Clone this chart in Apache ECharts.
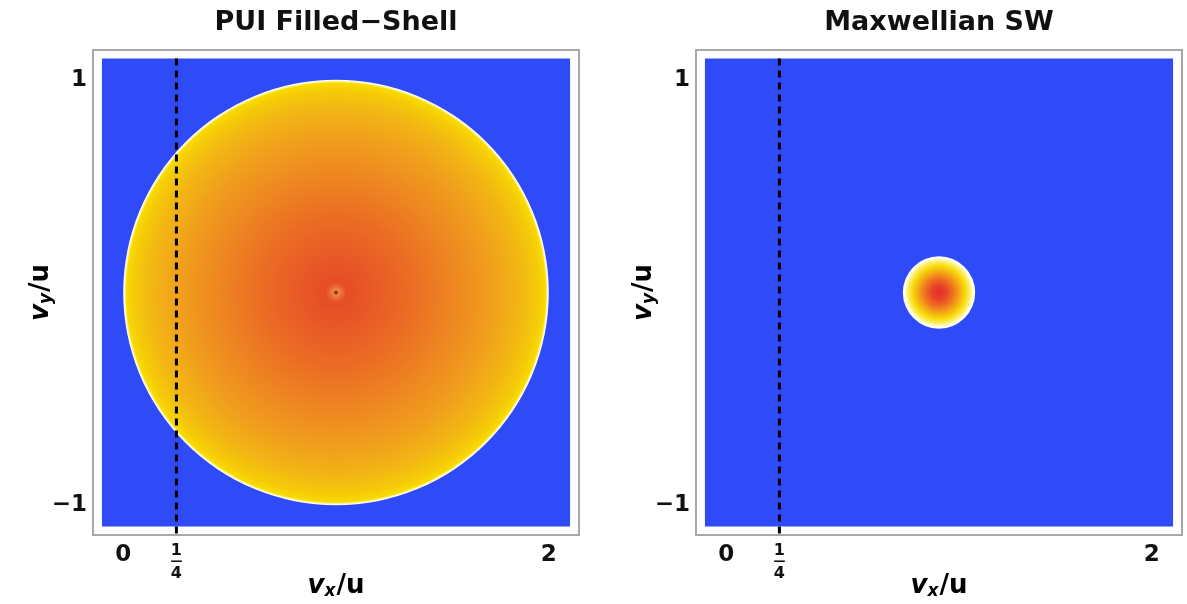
<!DOCTYPE html>
<html>
<head>
<meta charset="utf-8">
<script src="https://cdn.jsdelivr.net/npm/echarts@6.0.0/dist/echarts.min.js"></script>
<style>
  html, body { margin: 0; padding: 0; background: #ffffff; }
  #chart { width: 1187px; height: 604px; }
</style>
</head>
<body>
<div id="chart"></div>
<script>
// Velocity-space distributions: pickup-ion filled shell vs. Maxwellian solar wind
const panelTitles = ['PUI Filled\u2212Shell', 'Maxwellian SW'];
const vxTicks = [0, 0.25, 2];
const vyTicks = [-1, 1];
const vxTickMarks = [0, 2];
const vxDomain = [-0.1, 2.1];           // sampled region of the density plot
const vyDomain = [-1.1, 1.1];
const vxFrame = [-0.142, 2.142];        // plot frame extent
const vyFrame = [-1.14, 1.14];
const bulkCenter = [1, 0];              // (vx/u, vy/u) of the distribution centre
const outerRadius = [1, 0.17];          // edge of the populated region, per panel
const cutVx = 0.25;                     // dashed cut at vx = u/4
const cutVySpan = [-1.14, 1.1];

const FONT = 'DejaVu Sans';
const BLUE = '#2F4BF7';

// radial colour ramps (centre -> edge) for each panel
const ramps = [
  [[0, '#8A3418'], [0.007, '#A23C1C'], [0.013, '#F08A4C'], [0.028, '#EC6A34'],
   [0.05, '#E64D26'], [0.15, '#E85727'],
   [0.35, '#EB6C24'], [0.55, '#EE8621'], [0.72, '#F09D1D'], [0.86, '#F2B514'],
   [0.95, '#F5CB08'], [0.985, '#F8DC02'], [0.993, '#FFF6B0'], [1, '#FFFFFF']],
  [[0, '#E62C28'], [0.2, '#E9432A'], [0.4, '#EF7420'], [0.58, '#F4AC14'],
   [0.74, '#F8DC0C'], [0.86, '#FBF06A'], [0.94, '#FFFDE0'], [1, '#FFFFFF']]
];

function densitySeries(panel) {
  const stops = ramps[panel].map(([offset, color]) => ({ offset, color }));
  return {
    type: 'custom',
    xAxisIndex: panel,
    yAxisIndex: panel,
    silent: true,
    data: [[bulkCenter[0], bulkCenter[1], outerRadius[panel]]],
    renderItem(params, api) {
      const tl = api.coord([vxDomain[0], vyDomain[1]]);
      const br = api.coord([vxDomain[1], vyDomain[0]]);
      const c = api.coord([api.value(0), api.value(1)]);
      const r = api.size([api.value(2), 0])[0];
      return {
        type: 'group',
        children: [
          { type: 'rect', shape: { x: tl[0], y: tl[1], width: br[0] - tl[0], height: br[1] - tl[1] },
            style: { fill: BLUE } },
          { type: 'circle', shape: { cx: c[0], cy: c[1], r: r },
            style: { fill: new echarts.graphic.RadialGradient(0.5, 0.5, 0.5, stops) } }
        ]
      };
    }
  };
}

function cutSeries(panel) {
  return {
    type: 'custom',
    xAxisIndex: panel,
    yAxisIndex: panel,
    silent: true,
    z: 5,
    data: [[cutVx, cutVySpan[0], cutVySpan[1]]],
    renderItem(params, api) {
      const a = api.coord([api.value(0), api.value(2)]);
      const b = api.coord([api.value(0), api.value(1)]);
      return {
        type: 'line',
        shape: { x1: a[0], y1: a[1], x2: b[0], y2: b[1] },
        style: { stroke: '#000000', lineWidth: 3, lineDash: [7, 5] }
      };
    }
  };
}

const gridLefts = [93, 696];
const gridW = 486, gridH = 485, gridTop = 50;

const axisNameRich = {
  v: { fontFamily: FONT, fontSize: 26, fontWeight: 'bold', fontStyle: 'italic', color: '#000' },
  s: { fontFamily: FONT, fontSize: 17, fontWeight: 'bold', fontStyle: 'italic', color: '#000', verticalAlign: 'bottom', padding: [11, 1, 0, 0] },
  u: { fontFamily: FONT, fontSize: 26, fontWeight: 'bold', color: '#000' }
};

const option = {
  backgroundColor: '#ffffff',
  animation: false,
  title: panelTitles.map((t, i) => ({
    text: t,
    left: gridLefts[i] + gridW / 2 - 5,
    top: 4,
    textAlign: 'center',
    textStyle: { fontFamily: FONT, fontSize: 27, fontWeight: 'bold', color: '#111' }
  })),
  grid: gridLefts.map(l => ({
    left: l, top: gridTop, width: gridW, height: gridH,
    outerBoundsMode: 'none', containLabel: false,
    show: true, borderColor: '#A8A8A8', borderWidth: 2, backgroundColor: '#fff'
  })),
  xAxis: [0, 1].map(i => ({
    type: 'value', gridIndex: i, min: vxFrame[0], max: vxFrame[1],
    splitLine: { show: false },
    axisLine: { show: false },
    axisTick: { show: true, inside: true, length: 4, customValues: vxTickMarks,
                lineStyle: { color: '#999', width: 1 } },
    axisLabel: {
      show: true, customValues: vxTicks, margin: 9,
      fontFamily: FONT, fontSize: 23, fontWeight: 'bold', color: '#111',
      formatter: v => Math.abs(v - 0.25) < 1e-9 ? '{n|1}\n{b|\u2014}\n{n|4}' : String(v),
      rich: {
        n: { fontFamily: FONT, fontSize: 16, fontWeight: 'bold', color: '#111', lineHeight: 13, align: 'center' },
        b: { fontFamily: FONT, fontSize: 12, fontWeight: 'bold', color: '#111', lineHeight: 10, align: 'center' }
      }
    },
    name: '{v|v}{s|x}{u|/u}',
    nameLocation: 'middle', nameGap: 37, nameMoveOverlap: false,
    nameTextStyle: { rich: axisNameRich }
  })),
  yAxis: [0, 1].map(i => ({
    type: 'value', gridIndex: i, min: vyFrame[0], max: vyFrame[1],
    splitLine: { show: false },
    axisLine: { show: false },
    axisTick: { show: true, inside: true, length: 4, customValues: vyTicks,
                lineStyle: { color: '#999', width: 1 } },
    axisLabel: {
      show: true, customValues: vyTicks, margin: 6,
      fontFamily: FONT, fontSize: 23, fontWeight: 'bold', color: '#111',
      formatter: v => (v < 0 ? '\u2212' : '') + Math.abs(v)
    },
    name: '{v|v}{s|y}{u|/u}',
    nameLocation: 'middle', nameGap: 38, nameRotate: 90, nameMoveOverlap: false,
    nameTextStyle: { rich: axisNameRich }
  })),
  series: [densitySeries(0), cutSeries(0), densitySeries(1), cutSeries(1)]
};

const chart = echarts.init(document.getElementById('chart'), null, { renderer: 'canvas' });
chart.setOption(option);
</script>
</body>
</html>
